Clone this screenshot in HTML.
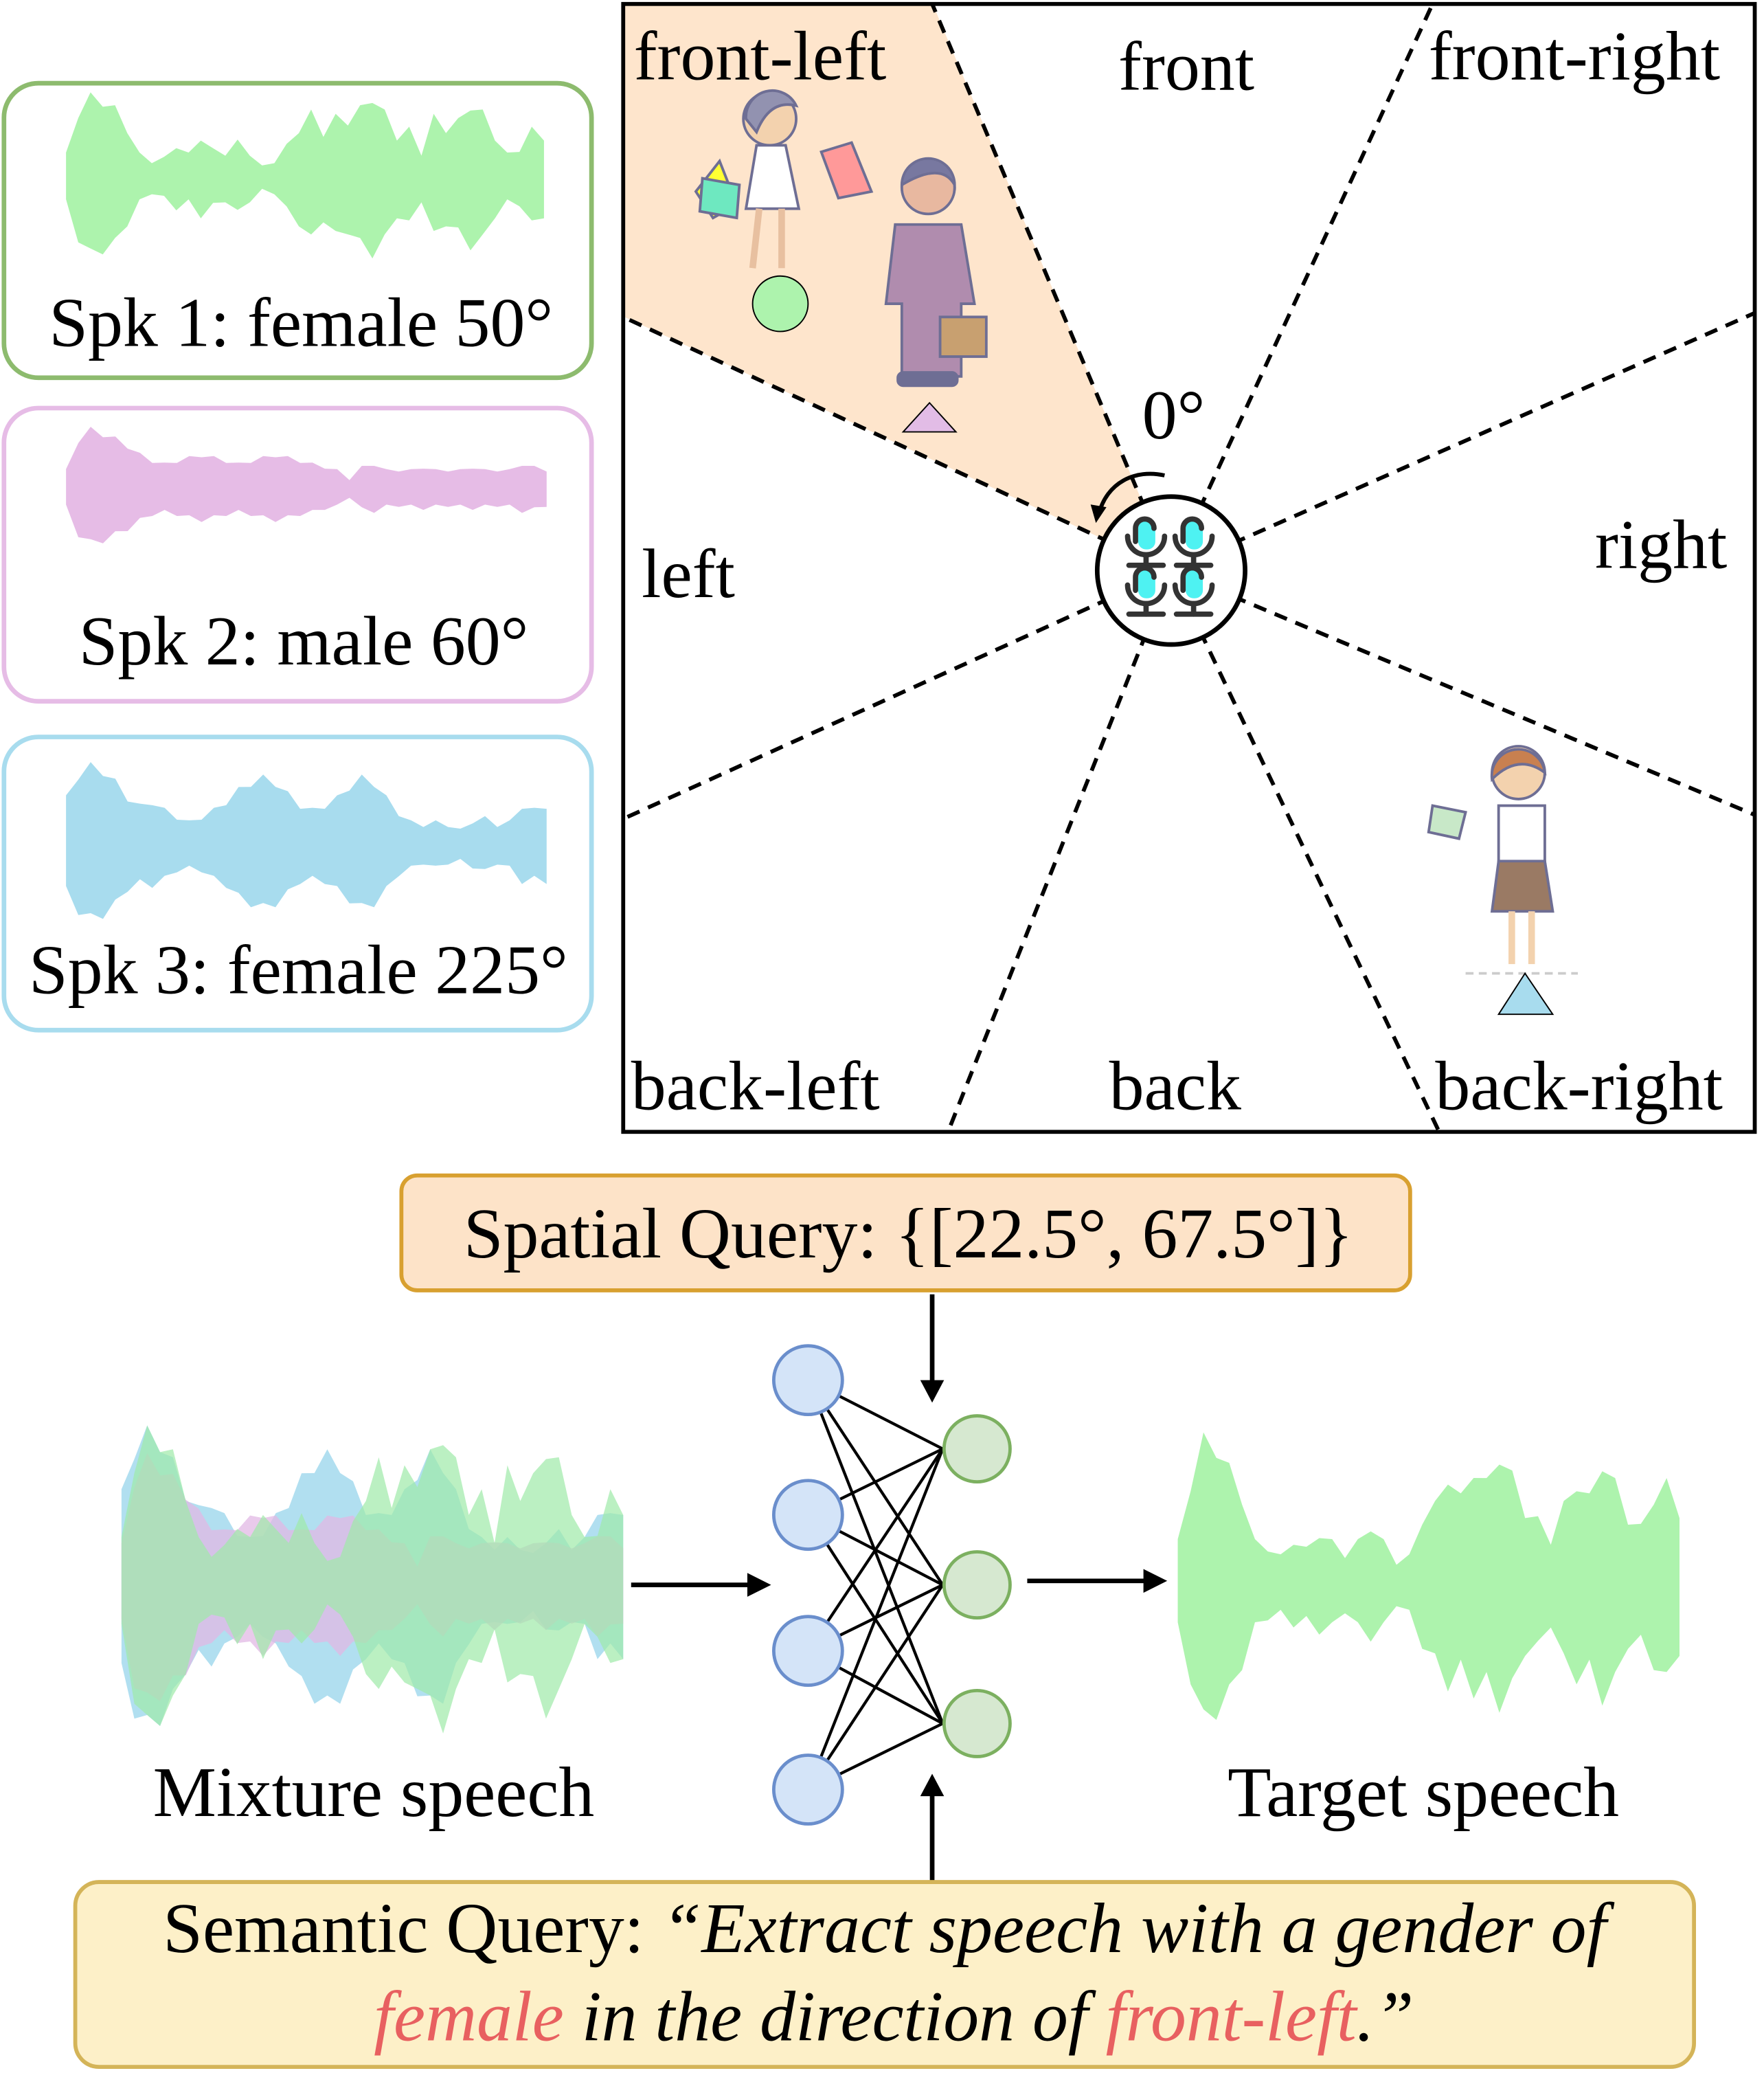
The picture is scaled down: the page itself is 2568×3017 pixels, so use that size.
<!DOCTYPE html>
<html><head><meta charset="utf-8"><style>
html,body{margin:0;padding:0;background:#fff}
svg{display:block}
svg text{font-family:"Liberation Serif","Times New Roman",Times,serif;fill:#000}
</style></head><body>
<svg id="fig" width="2568" height="3017" viewBox="0 0 1336 1569.6" xmlns="http://www.w3.org/2000/svg" font-family="Liberation Serif, Times New Roman, serif">
<defs>
  <g id="mic" fill="none" stroke="#333" stroke-width="4" stroke-linecap="round">
    <rect x="-6" y="-16" width="13" height="22" rx="6" fill="#4ef2f2" stroke="none"/>
    <path d="M-8,0 V-10 a7,7 0 0 1 14,0"/>
    <path d="M-14,-4 a14,14 0 0 0 28,0"/><line x1="0" y1="10" x2="0" y2="18"/><line x1="-13" y1="18" x2="13" y2="18"/>
  </g>
</defs>
<g>
  <polygon points="887,432 706,2 473,2 473,240" fill="#fee5cc"/>
  <rect x="472" y="3" width="857" height="854" fill="none" stroke="#000" stroke-width="3"/>
  <g stroke="#000" stroke-width="3" stroke-dasharray="10,7">
    <line x1="887" y1="432" x2="706" y2="3"/><line x1="887" y1="432" x2="1085" y2="3"/>
    <line x1="887" y1="432" x2="1329" y2="237"/><line x1="887" y1="432" x2="1329" y2="617"/>
    <line x1="887" y1="432" x2="1090" y2="857"/><line x1="887" y1="432" x2="718" y2="857"/>
    <line x1="887" y1="432" x2="472" y2="620"/><line x1="887" y1="432" x2="472" y2="240"/>
  </g>
  <g font-size="53">
    <text x="480" y="60">front-left</text>
    <text x="847" y="68">front</text>
    <text x="1082" y="60">front-right</text>
    <text x="486" y="452">left</text>
    <text x="1208" y="430">right</text>
    <text x="478" y="840">back-left</text>
    <text x="840" y="840">back</text>
    <text x="1087" y="840">back-right</text>
    <text x="865" y="332">0°</text>
  </g>
  <path d="M882,360 C860,355 838,365 832,390" fill="none" stroke="#000" stroke-width="3"/>
  <polygon points="826,382 838,384 830,396" fill="#000"/>
  <g>
    <circle cx="887" cy="432" r="56" fill="#fff" stroke="#000" stroke-width="3.5"/>
    <use href="#mic" x="868" y="410"/><use href="#mic" x="904" y="410"/>
    <use href="#mic" x="868" y="447"/><use href="#mic" x="904" y="447"/>
  </g>
  <g stroke="#6e6e94" stroke-width="2">
    <polygon points="527,145 545,122 558,155 540,165" fill="#ffff33"/>
    <polygon points="532,135 560,140 558,165 530,160" fill="#6ee8c0"/>
    <polygon points="622,115 645,108 660,145 635,150" fill="#ff9999"/>
    <circle cx="583" cy="90" r="20" fill="#f3d2ae"/>
    <path d="M565,90 a20,20 0 0 1 38,-10 q-20,-5 -30,20z" fill="#9292b0"/>
    <polygon points="573,110 595,110 605,158 565,158" fill="#fff"/>
    <path d="M575,158 l-5,45 M592,158 l0,45" fill="none" stroke="#e8c0a0" stroke-width="5"/>
  </g>
  <circle cx="591" cy="230" r="21" fill="#adf3ad" stroke="#000" stroke-width="1"/>
  <g stroke="#6e6e94" stroke-width="2">
    <circle cx="703" cy="142" r="20" fill="#e8b8a0"/>
    <path d="M683,140 a20,20 0 0 1 40,0 q-10,-18 -40,0z" fill="#7878a0"/>
    <path d="M678,170 h50 l10,60 h-10 v55 h-45 v-55 h-12z" fill="#b08cae"/>
    <rect x="712" y="240" width="35" height="30" fill="#c8a070"/>
    <rect x="680" y="282" width="45" height="10" rx="4" fill="#6e6e94"/>
  </g>
  <polygon points="704,305 684,327 724,327" fill="#e2bce6" stroke="#000" stroke-width="1"/>
  <g stroke="#6e6e94" stroke-width="2">
    <circle cx="1150" cy="585" r="20" fill="#f3d2ae"/>
    <path d="M1130,590 a20,20 0 0 1 40,-5 q-20,-15 -40,5z" fill="#c88050"/>
    <polygon points="1085,610 1110,615 1105,635 1082,630" fill="#c8e8c8"/>
    <rect x="1135" y="610" width="35" height="45" fill="#fff"/>
    <polygon points="1135,652 1170,652 1176,690 1130,690" fill="#9a7a64"/>
    <path d="M1145,690 v40 M1160,690 v40" stroke="#f3d2ae" stroke-width="5"/>
    <line x1="1110" y1="737" x2="1195" y2="737" stroke="#ccc" stroke-dasharray="6,4"/>
  </g>
  <polygon points="1155,737 1135,768 1176,768" fill="#a8dcee" stroke="#000" stroke-width="1"/>
</g>

<g>
  <rect x="3" y="63" width="445" height="223" rx="26" fill="#fff" stroke="#8dbb6e" stroke-width="3.5"/>
  <rect x="3" y="309" width="445" height="222" rx="26" fill="#fff" stroke="#e6bce6" stroke-width="3.5"/>
  <rect x="3" y="558" width="445" height="222" rx="26" fill="#fff" stroke="#a8dcee" stroke-width="3.5"/>
  <g id="cardwaves"></g>
  <text x="228" y="262" font-size="53" text-anchor="middle">Spk 1: female 50°</text>
  <text x="230" y="503" font-size="53" text-anchor="middle">Spk 2: male 60°</text>
  <text x="226" y="752" font-size="53" text-anchor="middle">Spk 3: female 225°</text>
</g>

<g>
  <rect x="304" y="890" width="764" height="87" rx="12" fill="#fde3c8" stroke="#d8a030" stroke-width="3"/>
  <text x="688" y="952" font-size="54" text-anchor="middle">Spatial Query: {[22.5°, 67.5°]}</text>
  <g id="mixwaves"></g>
  <g id="targetwave"></g>
  <g id="net" stroke="#000" stroke-width="2.2"></g>
  <g stroke="#000" stroke-width="3.5">
    <line x1="706" y1="980" x2="706" y2="1050"/><polygon points="697,1045 715,1045 706,1062" fill="#000" stroke="none"/>
    <line x1="706" y1="1425" x2="706" y2="1355"/><polygon points="697,1360 715,1360 706,1343" fill="#000" stroke="none"/>
    <line x1="478" y1="1200" x2="570" y2="1200"/><polygon points="566,1191 566,1209 584,1200" fill="#000" stroke="none"/>
    <line x1="778" y1="1197" x2="870" y2="1197"/><polygon points="866,1188 866,1206 884,1197" fill="#000" stroke="none"/>
  </g>
  <text x="283" y="1375" font-size="54" text-anchor="middle">Mixture speech</text>
  <text x="1078" y="1375" font-size="54" text-anchor="middle">Target speech</text>
  <rect x="57" y="1425" width="1226" height="140" rx="18" fill="#fdf0c8" stroke="#d4b458" stroke-width="3"/>
  <text x="670" y="1478" font-size="54" text-anchor="middle">Semantic Query: <tspan font-style="italic">“Extract speech with a gender of</tspan></text>
  <text x="677" y="1545" font-size="54" text-anchor="middle" font-style="italic"><tspan fill="#e86060">female</tspan> in the direction of <tspan fill="#e86060">front-left</tspan>.”</text>
</g>
</svg>
<script>
// waveform envelope amplitudes (0..1)
const spk1Amp=[0.3,0.8,1,0.95,0.85,0.6,0.3,0.2,0.25,0.4,0.3,0.5,0.35,0.3,0.45,0.3,0.15,0.2,0.4,0.6,0.8,0.55,0.75,0.7,0.85,1,0.8,0.5,0.6,0.3,0.75,0.6,0.7,0.9,0.8,0.5,0.3,0.35,0.6,0.5];
const spk2Amp=[0.3,0.8,0.95,0.9,0.8,0.7,0.55,0.45,0.4,0.45,0.5,0.55,0.5,0.45,0.4,0.45,0.5,0.55,0.5,0.45,0.4,0.35,0.3,0.15,0.35,0.4,0.3,0.3,0.3,0.35,0.3,0.3,0.3,0.35,0.3,0.3,0.3,0.4,0.35,0.3];
const spk3Amp=[0.6,0.9,1,0.95,0.8,0.6,0.5,0.55,0.45,0.35,0.3,0.35,0.45,0.55,0.7,0.8,0.85,0.8,0.65,0.5,0.45,0.5,0.6,0.75,0.85,0.8,0.6,0.4,0.3,0.25,0.3,0.25,0.2,0.3,0.35,0.25,0.3,0.5,0.45,0.5];
const targetAmp=[0.3,0.7,1,0.95,0.8,0.6,0.3,0.25,0.2,0.3,0.25,0.35,0.3,0.2,0.3,0.4,0.3,0.15,0.2,0.45,0.55,0.75,0.6,0.8,0.7,0.9,0.75,0.5,0.45,0.3,0.55,0.7,0.6,0.85,0.7,0.45,0.4,0.6,0.7,0.5];
const NS='http://www.w3.org/2000/svg';
function wave(parent,amps,x0,x1,cy,h,color,op,name){
  const n=amps.length, sx=i=>x0+(x1-x0)*i/(n-1);
  let top=[],bot=[];
  amps.forEach((a,i)=>{const w=(i%2?0.92:1.05);top.push(sx(i)+','+(cy-a*h*w));bot.unshift(sx(i)+','+(cy+a*h*0.9/w));});
  const p=document.createElementNS(NS,'polygon');
  p.setAttribute('points',top.concat(bot).join(' '));
  p.setAttribute('fill',color);p.setAttribute('fill-opacity',op);
  
  
  parent.appendChild(p);
}
const cw=document.getElementById('cardwaves');
wave(cw,spk1Amp,50,412,135,62,'#adf3ad',1,'speaker1-waveform');
wave(cw,spk2Amp,50,414,370,47,'#e6bce6',1,'speaker2-waveform');
wave(cw,spk3Amp,50,414,640,60,'#a8dcee',1,'speaker3-waveform');
const mw=document.getElementById('mixwaves');
wave(mw,spk3Amp,92,472,1200,115,'#a8dcee',0.9,'mixture-spk3');
wave(mw,spk2Amp,92,472,1200,100,'#e2b8e4',0.75,'mixture-spk2');
wave(mw,spk1Amp,92,472,1200,115,'#9eeaa8',0.7,'mixture-spk1');
wave(document.getElementById('targetwave'),targetAmp,892,1272,1200,110,'#adf3ad',1,'target-wave');
const net=document.getElementById('net');
const inY=[1045,1147,1250,1355], outY=[1097,1200,1305];
inY.forEach(a=>outY.forEach(b=>{const l=document.createElementNS(NS,'line');
 l.setAttribute('x1',612);l.setAttribute('y1',a);l.setAttribute('x2',714);l.setAttribute('y2',b);
 
 
 net.appendChild(l);}));
inY.forEach(y=>{const c=document.createElementNS(NS,'circle');c.setAttribute('cx',612);c.setAttribute('cy',y);c.setAttribute('r',26);c.setAttribute('fill','#d4e4f8');c.setAttribute('stroke','#6a8ecc');c.setAttribute('stroke-width',2.5);
 
 
 net.appendChild(c);});
outY.forEach(y=>{const c=document.createElementNS(NS,'circle');c.setAttribute('cx',740);c.setAttribute('cy',y);c.setAttribute('r',25);c.setAttribute('fill','#d6e8d0');c.setAttribute('stroke','#7cb060');c.setAttribute('stroke-width',2.5);
 
 
 net.appendChild(c);});
</script>
</body></html>
